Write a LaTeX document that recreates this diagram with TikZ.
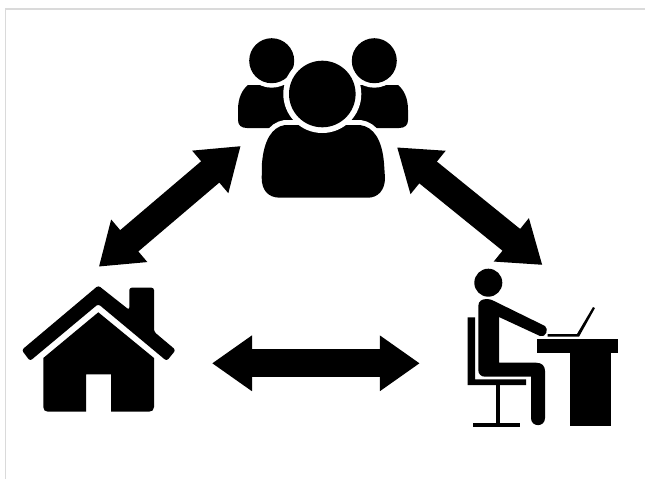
\documentclass[tikz,border=0pt]{standalone}
\usetikzlibrary{arrows.meta}
\definecolor{frame}{HTML}{DADADA}
\tikzset{
  bigarrow/.style={line width=28pt,{Triangle[length=40pt,width=53pt]}-{Triangle[length=40pt,width=53pt]}},
  ink/.style={fill=black},
  gap/.style={fill=white},
}
\begin{document}
\begin{tikzpicture}[x=1pt,y=-1pt]
\useasboundingbox (0,0) rectangle (645,479);
\fill[white] (0,0) rectangle (645,479);
\draw[frame,line width=1.6pt] (5.5,479) -- (5.5,9) -- (645,9);
% anchors of the connectors
\coordinate (teamL) at (240.7,146);
\coordinate (homeT) at (98.8,266.7);
\coordinate (teamR) at (397,147.3);
\coordinate (deskT) at (542.4,265);
\coordinate (homeR) at (212,363.3);
\coordinate (deskL) at (419.8,363.3);
\draw[bigarrow] (teamL) -- (homeT);
\draw[bigarrow] (teamR) -- (deskT);
\draw[bigarrow] (homeR) -- (deskL);
% team: back bodies
\fill[ink] (248,85) .. controls (242,90) and (238,98) .. (238,110) -- (238,120) .. controls (238,125) and (241,128) .. (247,128) -- (300,128) -- (300,85) -- cycle;
\fill[ink] (398,85) .. controls (404,90) and (408,98) .. (408,110) -- (408,120) .. controls (408,125) and (405,128) .. (399,128) -- (346,128) -- (346,85) -- cycle;
\fill[gap] (271.7,60.7) circle (27);
\fill[gap] (374.3,60.7) circle (27);
\fill[ink] (271.7,60.7) circle (22.5);
\fill[ink] (374.3,60.7) circle (22.5);
% team: front figure
\def\frontbody{(285,125) .. controls (272,127) and (264,140) .. (262,163) -- (261.7,178) .. controls (261.7,190) and (268,197.7) .. (280,197.7) -- (368,197.7) .. controls (378,197.7) and (385,190) .. (385,178) -- (384,163) .. controls (382,140) and (374,127) .. (360,125) -- cycle}
\path[gap,draw=white,line width=10pt] \frontbody;
\fill[ink] \frontbody;
\fill[gap] (322.3,94) circle (39);
\fill[ink] (322.3,94) circle (33.3);
% house
\fill[ink,rounded corners=2.5pt] (98.3,285.5) -- (21.7,350) -- (30,361) -- (98.3,304) -- (166.7,361) -- (175.7,350) -- (154,331.7) -- (154,287.7) -- (129.3,287.7) -- (129.3,310) -- cycle;
\fill[ink] (98.3,312.3) -- (154,358) -- (154,407) .. controls (154,410) and (152,411.7) .. (149,411.7) -- (111,411.7) -- (111,374.3) -- (86,374.3) -- (86,411.7) -- (48,411.7) .. controls (45,411.7) and (43.3,410) .. (43.3,407) -- (43.3,358) -- cycle;
% worker
\fill[ink] (488.3,282.7) circle (14);
\fill[ink] (478.3,306) .. controls (478.3,301) and (482,299) .. (487,299) .. controls (490,299) and (492,300) .. (494,301) -- (545,326) .. controls (549,329) and (546,338) .. (540,336) -- (499,317) -- (499,362.7) -- (536,362.7) .. controls (542,362.7) and (545,366) .. (545,371) -- (545,418) .. controls (545,427.5) and (531,427.5) .. (531,418) -- (531,376.7) -- (485,376.7) .. controls (481,376.7) and (478.3,374) .. (478.3,370) -- cycle;
\fill[ink] (467.7,317.3) -- (475,317.3) -- (475,379.3) -- (526,379.3) -- (526,385) -- (467.7,385) -- cycle;
\fill[ink] (495.7,385) rectangle (500,423);
\fill[ink] (473.3,422.7) rectangle (520,426.7);
\fill[ink] (547.7,334) -- (577,334) -- (593,307) -- (595,308) -- (579,336.7) -- (547.7,336.7) -- cycle;
\fill[ink] (537.3,339) rectangle (618.3,352.7);
\fill[ink] (570,352) rectangle (610.7,426);
\end{tikzpicture}
\end{document}
